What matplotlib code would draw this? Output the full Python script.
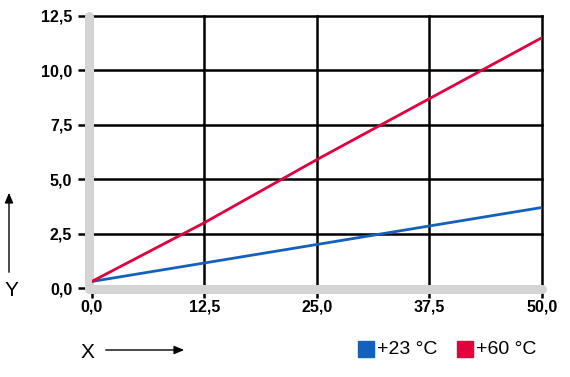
import matplotlib
matplotlib.use("Agg")
import matplotlib.pyplot as plt
from matplotlib.patches import FancyArrowPatch, Rectangle

# Data
x_vals = [0.0, 12.5, 25.0, 37.5, 50.0]
red_60 = [0.3, 3.0, 5.9, 8.7, 11.5]
blue_23 = [0.3, 1.15, 2.0, 2.85, 3.7]
x_ticks = [0.0, 12.5, 25.0, 37.5, 50.0]
y_ticks = [0.0, 2.5, 5.0, 7.5, 10.0, 12.5]
legend_labels = ["+23 °C", "+60 °C"]

RED = "#e2003f"
BLUE = "#1461bd"
GRAY = "#d4d4d4"

fig = plt.figure(figsize=(5.7, 3.77), dpi=100)
ax = fig.add_axes([0.161, 0.236, 0.790, 0.722])
ax.set_xlim(0, 50)
ax.set_ylim(0, 12.5)

# grid lines
for xv in x_ticks[1:]:
    ax.axvline(xv, color="black", lw=1.8, zorder=1, clip_on=False)
for yv in y_ticks[1:]:
    ax.axhline(yv, color="black", lw=1.8, zorder=1, clip_on=False)

ax.plot(x_vals, blue_23, color=BLUE, lw=2.0, zorder=5, solid_capstyle="round")
ax.plot(x_vals, red_60, color=RED, lw=2.0, zorder=5, solid_capstyle="round")

for s in ax.spines.values():
    s.set_visible(False)

# gray thick axes
ax.plot([-0.35, -0.35], [0, 12.5], color=GRAY, lw=6.5, solid_capstyle="round",
        clip_on=False, zorder=4)
ax.plot([-0.35, 50], [-0.05, -0.05], color=GRAY, lw=6.5, solid_capstyle="round",
        clip_on=False, zorder=4)

fmt = lambda v: f"{v:.1f}".replace(".", ",")
ax.set_xticks(x_ticks)
ax.set_yticks(y_ticks)
ax.set_xticklabels([fmt(v) for v in x_ticks], fontweight="bold", fontsize=11.5,
                   family="Liberation Sans")
ax.set_yticklabels([fmt(v) for v in y_ticks], fontweight="bold", fontsize=11.5,
                   family="Liberation Sans")
ax.tick_params(axis="y", length=10, width=1.8, pad=4, color="black")
ax.tick_params(axis="x", length=7, width=1.8, pad=1, color="black")

# Y label with arrow
fig.text(11 / 570, 1 - 290 / 377, "Y", fontsize=15, ha="center", va="center",
         family="Liberation Sans")
arr = FancyArrowPatch((9 / 570, 1 - 275 / 377), (9 / 570, 1 - 190 / 377),
                      transform=fig.transFigure, arrowstyle="-|>,head_length=6,head_width=2.5",
                      color="black", lw=1.0)
fig.add_artist(arr)
# X label with arrow
fig.text(87 / 570, 1 - 352 / 377, "X", fontsize=15, ha="center", va="center",
         family="Liberation Sans")
arr2 = FancyArrowPatch((103 / 570, 1 - 350 / 377), (187 / 570, 1 - 350 / 377),
                       transform=fig.transFigure, arrowstyle="-|>,head_length=6,head_width=2.5",
                       color="black", lw=1.0)
fig.add_artist(arr2)

# Legend
for i, (lab, col, xp) in enumerate(zip(legend_labels, [BLUE, RED], [358, 457])):
    fig.add_artist(Rectangle((xp / 570, 1 - 357 / 377), 16 / 570, 16 / 377,
                             transform=fig.transFigure, color=col))
    fig.text((xp + 19) / 570, 1 - 349 / 377, lab, fontsize=14, ha="left", va="center",
             family="Liberation Sans")

fig.savefig("out.png", dpi=100)
